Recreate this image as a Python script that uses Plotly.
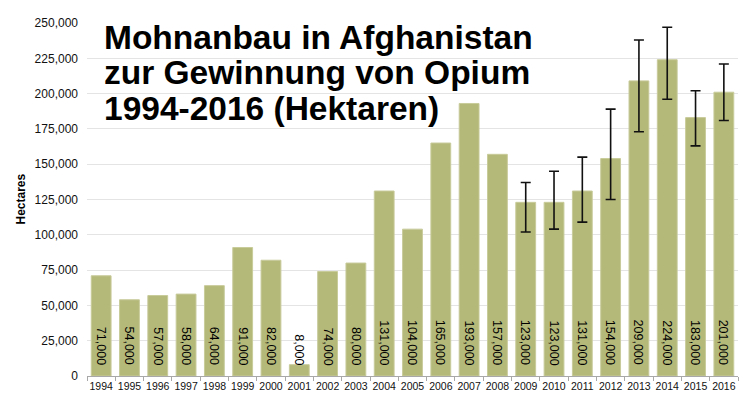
import plotly.graph_objects as go

years = [str(y) for y in range(1994, 2017)]
hectares = [71000, 54000, 57000, 58000, 64000, 91000, 82000, 8000, 74000, 80000,
            131000, 104000, 165000, 193000, 157000, 123000, 123000, 131000, 154000,
            209000, 224000, 183000, 201000]
err_years = [str(y) for y in range(2009, 2017)]
err_plus = [14000, 22000, 24000, 35000, 29000, 23000, 19000, 20000]
err_minus = [21000, 19000, 22000, 29000, 36000, 28000, 20000, 20000]
labels = [f"{v:,}" for v in hectares]
title_lines = ["Mohnanbau in Afghanistan", "zur Gewinnung von Opium", "1994-2016 (Hektaren)"]

L, R, T, B = 87, 12, 23, 43
W, H = 750, 419
pw, ph = W - L - R, H - T - B

err_vals = [hectares[years.index(y)] for y in err_years]

fig = go.Figure()
fig.add_trace(go.Bar(
    x=years, y=hectares,
    marker=dict(color="#b4b879", line=dict(color="#c8cb9a", width=1)),
    hoverinfo="x+y",
))
fig.add_trace(go.Scatter(
    x=err_years, y=err_vals, mode="markers",
    marker=dict(size=1, opacity=0),
    error_y=dict(type="data", symmetric=False, array=err_plus, arrayminus=err_minus,
                 color="#111111", thickness=1.6, width=5),
    hoverinfo="skip",
))

# value labels (category index positions on the x axis)
for i, lab in enumerate(labels):
    fig.add_annotation(x=i, y=0, xref="x", yref="y", text=lab, textangle=90,
                       showarrow=False, yanchor="bottom", xanchor="center", yshift=9,
                       font=dict(family="Liberation Sans, Arial", size=12.5, color="#000000"))

title_y_px = [37, 72, 108]
for i, line in enumerate(title_lines):
    fig.add_annotation(x=(102 - L) / pw, y=(H - B - title_y_px[i]) / ph,
                       xref="paper", yref="paper",
                       text=f"<b>{line}</b>", showarrow=False, xanchor="left", yanchor="middle",
                       font=dict(family="Liberation Sans, Arial", size=33.5, color="#000000"))

fig.add_annotation(x=-(L - 20) / pw, y=0.5, xref="paper", yref="paper", text="<b>Hectares</b>",
                   textangle=-90, showarrow=False, xanchor="center", yanchor="middle",
                   font=dict(family="Liberation Sans, Arial", size=12, color="#000000"))

fig.update_layout(
    width=W, height=H,
    margin=dict(l=L, r=R, t=T, b=B),
    paper_bgcolor="white", plot_bgcolor="white",
    showlegend=False,
    bargap=0.3,
    font=dict(family="Liberation Sans, Arial", color="#000000"),
)
fig.update_xaxes(type="category", range=[-0.5, len(years) - 0.5],
                 showline=True, linecolor="#a8a8a8", linewidth=1,
                 ticks="outside", tickson="boundaries", ticklen=4, tickcolor="#a8a8a8",
                 tickfont=dict(size=10.5, color="#111111"), showgrid=False, tickangle=0)
fig.update_yaxes(range=[0, 250000], dtick=25000, tickformat=",", showgrid=True,
                 gridcolor="#e4e4e4", gridwidth=1, zeroline=False, showline=False,
                 tickfont=dict(size=12, color="#111111"), ticks="", ticklabelstandoff=8)

fig.write_html("out.html")
